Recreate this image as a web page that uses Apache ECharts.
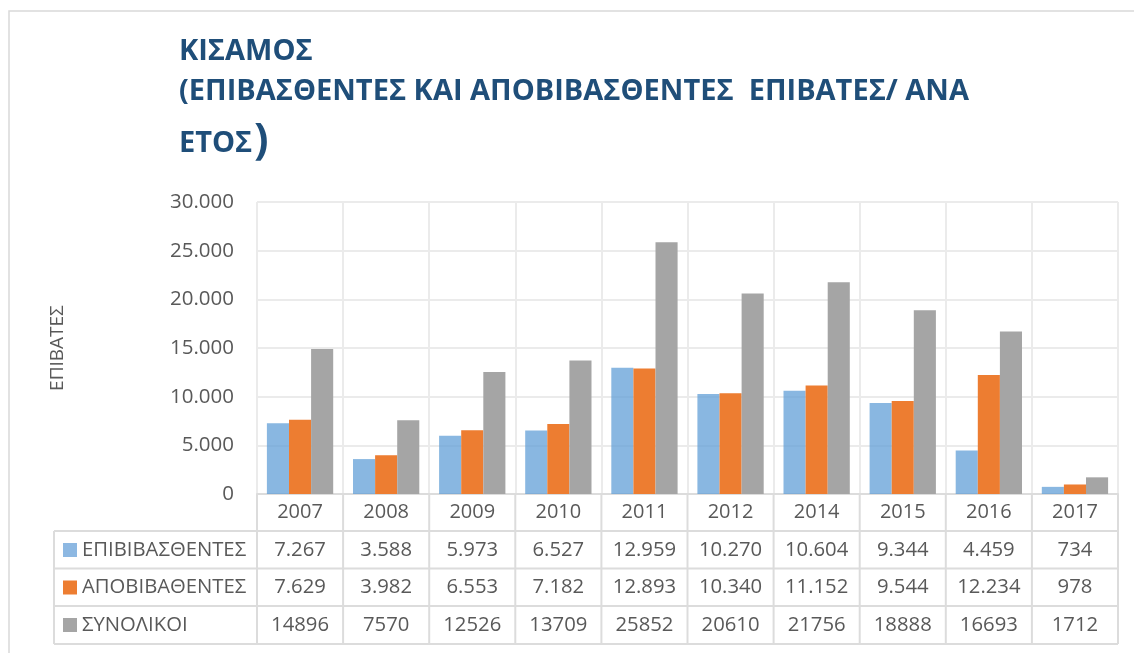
<!DOCTYPE html>
<html>
<head>
<meta charset="utf-8">
<script src="https://cdn.jsdelivr.net/npm/echarts@6/dist/echarts.min.js"></script>
<style>html,body{margin:0;padding:0;background:#fff;}#c{width:1134px;height:653px;}</style>
</head>
<body>
<div id="c"></div>
<script>
var years = ['2007','2008','2009','2010','2011','2012','2014','2015','2016','2017'];
var seriesNames = ['ΕΠΙΒΙΒΑΣΘΕΝΤΕΣ','ΑΠΟΒΙΒΑΘΕΝΤΕΣ','ΣΥΝΟΛΙΚΟΙ'];
var embarked = [7267,3588,5973,6527,12959,10270,10604,9344,4459,734];
var disembarked = [7629,3982,6553,7182,12893,10340,11152,9544,12234,978];
var totals = [14896,7570,12526,13709,25852,20610,21756,18888,16693,1712];
var yTicks = [0,5000,10000,15000,20000,25000,30000];

var colors = ['rgba(91,155,213,0.72)','#ED7D31','#A5A5A5'];
var keyColors = ['#8DB8E2','#ED7D31','#A5A5A5'];
var FONT = 'Open Sans';
var TXT = '#595959';
var LINE = '#DCDCDC';

function dotted(v){ return String(v).replace(/\B(?=(\d{3})+(?!\d))/g,'.'); }

var chart = echarts.init(document.getElementById('c'), null, {renderer:'canvas'});
var option = {
  animation:false,
  backgroundColor:'#fff',
  grid:{left:257,right:16,top:202,bottom:159,containLabel:false},
  xAxis:{
    type:'category', data:years,
    axisLine:{show:true,lineStyle:{color:LINE,width:2}},
    axisTick:{show:false},
    axisLabel:{fontFamily:FONT,fontSize:20,color:TXT,margin:8},
    splitLine:{show:true,lineStyle:{color:'#EBEBEB',width:2}}
  },
  yAxis:{
    type:'value', min:yTicks[0], max:yTicks[yTicks.length-1], interval:5000,
    name:'ΕΠΙΒΑΤΕΣ', nameLocation:'middle', nameGap:190, nameRotate:90,
    nameTextStyle:{fontFamily:FONT,fontSize:19,color:TXT},
    axisLine:{show:false}, axisTick:{show:false},
    axisLabel:{fontFamily:FONT,fontSize:20.5,color:TXT,margin:23,formatter:function(v){return dotted(v);}},
    splitLine:{show:true,lineStyle:{color:'#EBEBEB',width:2}}
  },
  series:[
    {name:seriesNames[0],type:'bar',data:embarked,barGap:'0%',barCategoryGap:'23%',itemStyle:{color:colors[0]}},
    {name:seriesNames[1],type:'bar',data:disembarked,barGap:'0%',barCategoryGap:'23%',itemStyle:{color:colors[1]}},
    {name:seriesNames[2],type:'bar',data:totals,barGap:'0%',barCategoryGap:'23%',itemStyle:{color:colors[2]}}
  ]
};
chart.setOption(option);

// build table + title graphics
var g = [];
var c0 = chart.convertToPixel({xAxisIndex:0}, 0);
var c1 = chart.convertToPixel({xAxisIndex:0}, 1);
var cw = c1 - c0;
var xStart = c0 - cw/2;
var xEnd = xStart + cw*years.length;
var yAxis0 = chart.convertToPixel({yAxisIndex:0}, 0);
var rowTops = [yAxis0 + 37, yAxis0 + 74.5, yAxis0 + 112];
var rowH = 38;
var tableBottom = rowTops[2] + rowH;
var tableLeft = 54;
var ls = {stroke:LINE,lineWidth:2};
rowTops.concat([tableBottom]).forEach(function(y){
  g.push({type:'line',shape:{x1:tableLeft,y1:y,x2:xEnd,y2:y},style:ls,silent:true});
});
g.push({type:'line',shape:{x1:tableLeft,y1:rowTops[0],x2:tableLeft,y2:tableBottom},style:ls,silent:true});
for (var i=0;i<=years.length;i++){
  var x = xStart + cw*i;
  g.push({type:'line',shape:{x1:x,y1:yAxis0,x2:x,y2:tableBottom},style:ls,silent:true});
}
var rows = [embarked, disembarked, totals];
rows.forEach(function(arr, r){
  var cy = rowTops[r] + rowH/2;
  g.push({type:'rect',shape:{x:63,y:cy-7,width:14,height:14},style:{fill:keyColors[r]},silent:true});
  g.push({type:'text',x:82,y:cy,style:{text:seriesNames[r],font:'20.3px "Open Sans"',fill:TXT,verticalAlign:'middle',align:'left'},silent:true});
  arr.forEach(function(v,i){
    var cx = chart.convertToPixel({xAxisIndex:0}, i);
    g.push({type:'text',x:cx,y:cy,style:{text: r<2 ? dotted(v) : String(v),font:'20.3px "Open Sans"',fill:TXT,verticalAlign:'middle',align:'center'},silent:true});
  });
});
g.push({type:'rect',shape:{x:9,y:11,width:1200,height:700},style:{fill:'none',stroke:'#D9D9D9',lineWidth:1.5},silent:true});
var tc = '#1F4E79';
g.push({type:'text',x:179,y:52,style:{text:'ΚΙΣΑΜΟΣ',font:'bold 29px "Open Sans"',fill:tc,verticalAlign:'middle'},silent:true});
g.push({type:'text',x:179,y:92,style:{text:'(ΕΠΙΒΑΣΘΕΝΤΕΣ ΚΑΙ ΑΠΟΒΙΒΑΣΘΕΝΤΕΣ  ΕΠΙΒΑΤΕΣ/ ΑΝΑ',font:'bold 29px "Open Sans"',fill:tc,verticalAlign:'middle'},silent:true});
g.push({type:'text',x:179,y:144,style:{text:'ΕΤΟΣ',font:'bold 29px "Open Sans"',fill:tc,verticalAlign:'middle'},silent:true});
g.push({type:'text',x:254,y:142,style:{text:')',font:'bold 43px "Open Sans"',fill:tc,verticalAlign:'middle'},silent:true});
chart.setOption({graphic:g});
</script>
</body>
</html>
